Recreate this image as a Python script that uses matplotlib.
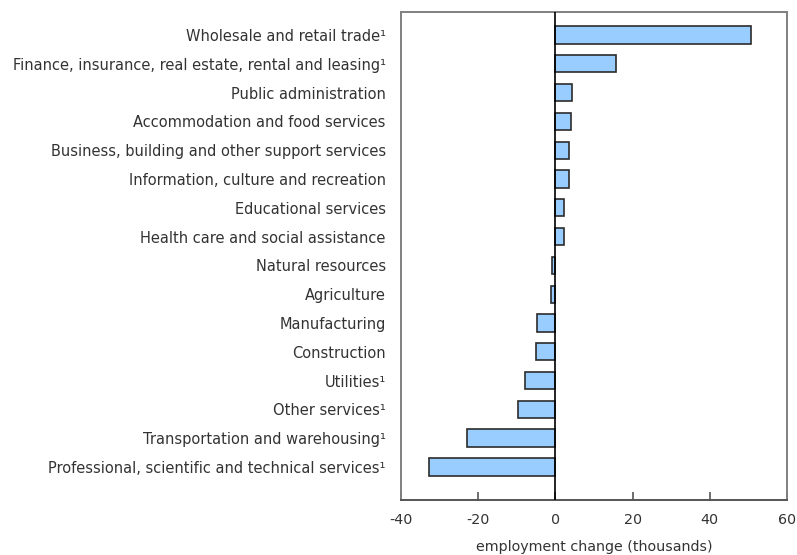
import numpy as np
import matplotlib.pyplot as plt

# employment change by industry (thousands)
industries = [
    'Wholesale and retail trade¹',
    'Finance, insurance, real estate, rental and leasing¹',
    'Public administration',
    'Accommodation and food services',
    'Business, building and other support services',
    'Information, culture and recreation',
    'Educational services',
    'Health care and social assistance',
    'Natural resources',
    'Agriculture',
    'Manufacturing',
    'Construction',
    'Utilities¹',
    'Other services¹',
    'Transportation and warehousing¹',
    'Professional, scientific and technical services¹',
]
change = [50.8, 15.8, 4.4, 4.1, 3.6, 3.4, 2.3, 2.1,
          -0.8, -1.1, -4.7, -4.9, -7.8, -9.7, -22.9, -32.8]
xticks = [-40, -20, 0, 20, 40, 60]

text_color = '#333333'
plt.rcParams['font.family'] = ['DejaVu Sans']

fig = plt.figure(figsize=(7.97, 5.55), dpi=100)
ax = fig.add_axes([401 / 797, 1 - 500 / 555, 386 / 797, 488 / 555])

y = np.arange(len(industries))
ax.barh(y, change, height=0.6, color='#99CCFF', edgecolor='#2b2b2b',
        linewidth=1.2, zorder=2)
ax.axvline(0, color='black', linewidth=1.2, zorder=3)

ax.set_ylim(len(industries) - 1 + 1.15, -0.8)
ax.set_xlim(-40, 60)
ax.set_xticks(xticks)
ax.set_xticklabels([str(v) for v in xticks], fontsize=10.3, color=text_color)
ax.tick_params(axis='x', direction='in', length=6, width=1.2,
               color='#555555', pad=9)

ax.set_yticks(y)
ax.set_yticklabels(industries, fontsize=10.5, color=text_color)
ax.tick_params(axis='y', length=0, pad=11)

for side in ['left', 'right', 'top', 'bottom']:
    ax.spines[side].set_color('#808080')
    ax.spines[side].set_linewidth(1.4)
ax.spines['bottom'].set_color('#555555')

ax.set_xlabel('employment change (thousands)', fontsize=10.3,
              color=text_color, labelpad=10)

fig.savefig('out.png', dpi=100)
